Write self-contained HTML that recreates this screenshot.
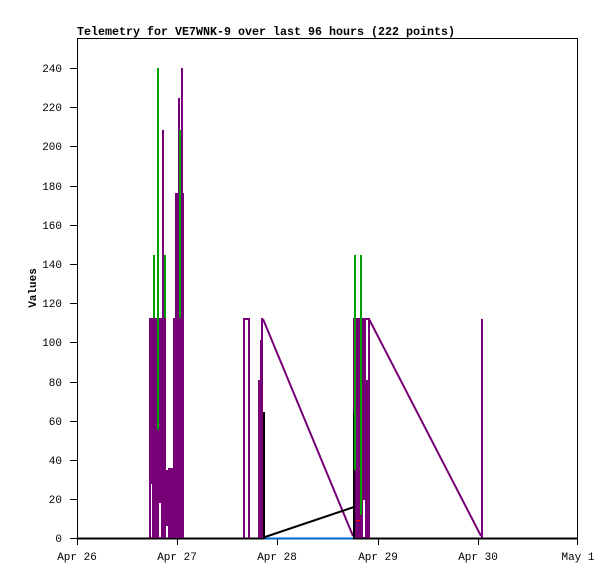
<!DOCTYPE html>
<html><head><style>body{margin:0;background:#fff}svg{display:block}text{font-family:"Liberation Mono",monospace;font-size:11px;fill:#000}</style></head><body>
<svg width="615" height="579" xmlns="http://www.w3.org/2000/svg">
<rect x="77.5" y="38.5" width="500" height="500" fill="none" stroke="#000" stroke-width="1"/>
<text x="77" y="35" textLength="378" lengthAdjust="spacingAndGlyphs" style="font-weight:bold;font-size:12px">Telemetry for VE7WNK-9 over last 96 hours (222 points)</text>
<text transform="translate(36,288) rotate(-90)" text-anchor="middle" style="font-weight:bold">Values</text>
<g stroke="#000" stroke-width="1">
<line x1="70" y1="538.5" x2="77" y2="538.5"/><line x1="70" y1="499.5" x2="77" y2="499.5"/><line x1="70" y1="460.5" x2="77" y2="460.5"/><line x1="70" y1="421.5" x2="77" y2="421.5"/><line x1="70" y1="382.5" x2="77" y2="382.5"/><line x1="70" y1="342.5" x2="77" y2="342.5"/><line x1="70" y1="303.5" x2="77" y2="303.5"/><line x1="70" y1="264.5" x2="77" y2="264.5"/><line x1="70" y1="225.5" x2="77" y2="225.5"/><line x1="70" y1="186.5" x2="77" y2="186.5"/><line x1="70" y1="146.5" x2="77" y2="146.5"/><line x1="70" y1="107.5" x2="77" y2="107.5"/><line x1="70" y1="68.5" x2="77" y2="68.5"/>
<line x1="77.5" y1="538" x2="77.5" y2="545"/><line x1="177.5" y1="538" x2="177.5" y2="545"/><line x1="277.5" y1="538" x2="277.5" y2="545"/><line x1="378.5" y1="538" x2="378.5" y2="545"/><line x1="478.5" y1="538" x2="478.5" y2="545"/><line x1="577.5" y1="538" x2="577.5" y2="545"/>
</g>
<g text-anchor="end">
<text x="62" y="542">0</text><text x="62" y="503">20</text><text x="62" y="464">40</text><text x="62" y="425">60</text><text x="62" y="386">80</text><text x="62" y="346">100</text><text x="62" y="307">120</text><text x="62" y="268">140</text><text x="62" y="229">160</text><text x="62" y="190">180</text><text x="62" y="150">200</text><text x="62" y="111">220</text><text x="62" y="72">240</text>
</g>
<g text-anchor="middle">
<text x="77" y="560">Apr 26</text><text x="177" y="560">Apr 27</text><text x="277" y="560">Apr 28</text><text x="378" y="560">Apr 29</text><text x="478" y="560">Apr 30</text><text x="578" y="560">May 1</text>
</g>
<line x1="77" y1="538.5" x2="577" y2="538.5" stroke="#000" stroke-width="2"/>
<line x1="265" y1="538.5" x2="353" y2="538.5" stroke="#0066cc" stroke-width="2"/>
<!-- cluster 1 -->
<g fill="#770077">
<rect x="149" y="318" width="7" height="220"/>
<rect x="156" y="318" width="10" height="220"/>
<rect x="162" y="130" width="2" height="190"/>
<rect x="166" y="470" width="2" height="56"/>
<rect x="168" y="440" width="2" height="98"/>
<rect x="170" y="400" width="2" height="138"/>
<rect x="172" y="350" width="2" height="188"/>
<rect x="173" y="318" width="11" height="220"/>
<rect x="175" y="193" width="9" height="130"/>
<rect x="178" y="98" width="2" height="100"/>
<rect x="181" y="68" width="2" height="130"/>
</g>
<g fill="#fff"><rect x="151" y="484" width="1" height="53"/><rect x="159" y="503" width="2" height="34"/><rect x="167" y="318" width="6" height="150"/></g>
<g stroke="#00a000" stroke-width="2">
<line x1="154" y1="255" x2="154" y2="318"/><line x1="158" y1="68" x2="158" y2="430"/><line x1="165" y1="255" x2="165" y2="318"/><line x1="180" y1="130" x2="180" y2="318"/>
</g>
<!-- cluster 2 -->
<g stroke="#770077" stroke-width="2" fill="none">
<polyline points="244,538 244,319 249,319 249,538"/>
<line x1="263" y1="319" x2="353" y2="536"/>
<line x1="369" y1="319" x2="481" y2="536"/>
<line x1="482" y1="319" x2="482" y2="538"/>
</g>
<g fill="#770077">
<rect x="258" y="380" width="2" height="158"/><rect x="260" y="340" width="2" height="198"/><rect x="261" y="318" width="2" height="220"/>
<rect x="353" y="318" width="17" height="220"/>
</g>
<g fill="#fff"><rect x="363" y="500" width="2" height="37"/><rect x="366" y="320" width="2" height="60"/></g>
<g stroke="#000" stroke-width="2">
<line x1="264" y1="412" x2="264" y2="538"/>
<line x1="265" y1="537" x2="354" y2="507"/>
<line x1="354" y1="412" x2="354" y2="538"/>
</g>
<g stroke="#00a000" stroke-width="2">
<line x1="355" y1="255" x2="355" y2="470"/><line x1="361" y1="255" x2="361" y2="515"/>
</g>
<line x1="356" y1="520.5" x2="360" y2="520.5" stroke="#ff0000" stroke-width="1"/>
</svg>
</body></html>
